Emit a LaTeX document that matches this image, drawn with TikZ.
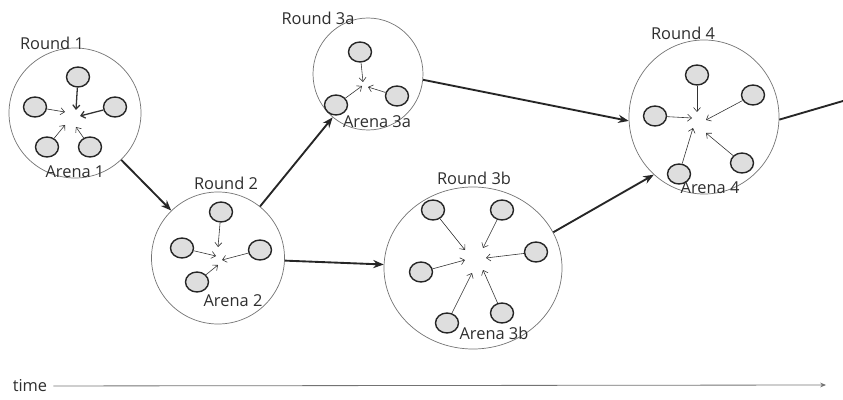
\documentclass[tikz,border=0pt]{standalone}
\usepackage{fontspec}
\setmainfont{Open Sans}
\usetikzlibrary{shapes.geometric, arrows.meta}

\tikzset{
    arena/.style = {ellipse, draw=black!55, line width=0.6pt, inner sep=0pt},
    ball/.style = {ellipse, draw=black!85, fill=black!13, line width=1.2pt, inner sep=0pt, minimum width=0.69cm, minimum height=0.6cm},
    pull/.style = {-{Straight Barb[length=3.5pt, width=6pt]}, draw=black!80},
    jump/.style = {-{Stealth[length=9pt, width=7pt]}, draw=black!85, line width=1.6pt},
    lbl/.style = {text=black!82, inner sep=1pt, font=\fontsize{14}{16}\selectfont},
}

\begin{document}
\begin{tikzpicture}[x=0.03cm, y=-0.03cm]

    \useasboundingbox (0,0) rectangle (843,400);

    % arenas
    \node[arena, minimum width=3.96cm, minimum height=3.9cm] (a1) at (75,113) {};
    \node[arena, minimum width=3.99cm, minimum height=3.96cm] (a2) at (218,258) {};
    \node[arena, minimum width=3.3cm, minimum height=3.36cm] (a3a) at (368,74) {};
    \node[arena, minimum width=5.34cm, minimum height=4.86cm] (a3b) at (473,268) {};
    \node[arena, minimum width=4.5cm, minimum height=4.62cm] (a4) at (704,117) {};

    \node[lbl] (r1) at (52,43) {Round 1};
    \node[lbl] (r2) at (226,183) {Round 2};
    \node[lbl] (r3a) at (318,18) {Round 3a};
    \node[lbl] (r3b) at (474,178) {Round 3b};
    \node[lbl] (r4) at (683,33) {Round 4};

    % players pulled to the middle of each arena
    \foreach \bx/\by/\ex/\ey/\w [count=\i] in {78/77/76/110/1.1, 35/107/65/112/0.5, 115/107/80/116/1.1, 47/147/65/125/0.5, 90/147/76/127/0.5} {
        \node[ball] (p1\i) at (\bx,\by) {};
        \coordinate (q1\i) at (\ex,\ey);
        \draw[pull, line width=\w pt] (p1\i) -- (q1\i);
    } %end foreach

    \foreach \bx/\by/\ex/\ey [count=\i] in {221/212/218/247, 182/248/216/256, 260/250/222/260, 197/282/218/265} {
        \node[ball] (p2\i) at (\bx,\by) {};
        \coordinate (q2\i) at (\ex,\ey);
        \draw[pull, line width=0.5pt] (p2\i) -- (q2\i);
    } %end foreach

    \foreach \bx/\by/\ex/\ey [count=\i] in {360/52/363/82, 336/105/362/86, 397/96/368/87} {
        \node[ball] (p3\i) at (\bx,\by) {};
        \coordinate (q3\i) at (\ex,\ey);
        \draw[pull, line width=0.5pt] (p3\i) -- (q3\i);
    } %end foreach

    \foreach \bx/\by/\ex/\ey [count=\i] in {433/210/465/250, 502/210/483/248, 536/252/486/258, 421/272/465/260, 447/323/472/273, 502/313/483/270} {
        \node[ball] (p4\i) at (\bx,\by) {};
        \coordinate (q4\i) at (\ex,\ey);
        \draw[pull, line width=0.5pt] (p4\i) -- (q4\i);
    } %end foreach

    \foreach \bx/\by/\ex/\ey [count=\i] in {697/75/697/112, 753/95/706/120, 655/116/692/118, 679/174/693/128, 742/163/706/133} {
        \node[ball] (p5\i) at (\bx,\by) {};
        \coordinate (q5\i) at (\ex,\ey);
        \draw[pull, line width=0.5pt] (p5\i) -- (q5\i);
    } %end foreach

    \node[lbl] (n1) at (75,172) {Arena 1};
    \node[lbl] (n2) at (233,301) {Arena 2};
    \node[lbl] (n3a) at (377,122) {Arena 3a};
    \node[lbl] (n3b) at (494,333) {Arena 3b};
    \node[lbl] (n4) at (710,188) {Arena 4};

    % rounds
    \draw[jump] (a1) -- (a2);
    \draw[jump] (a2) -- (a3a);
    \draw[jump] (a2) -- (a3b);
    \draw[jump] (a3a.-6) -- (a4.183);
    \draw[jump] (a3b.24) -- (a4.229);
    \coordinate (next) at (843,101);
    \draw[jump, -] (a4.-2) -- (next);

    % time axis
    \node[lbl] (time) at (30,386) {time};
    \coordinate (tend) at (826,385);
    \draw[black!55, line width=0.7pt, shorten <=4pt, -{Stealth[length=5pt, width=4pt]}] (time) -- (tend);

\end{tikzpicture}
\end{document}
